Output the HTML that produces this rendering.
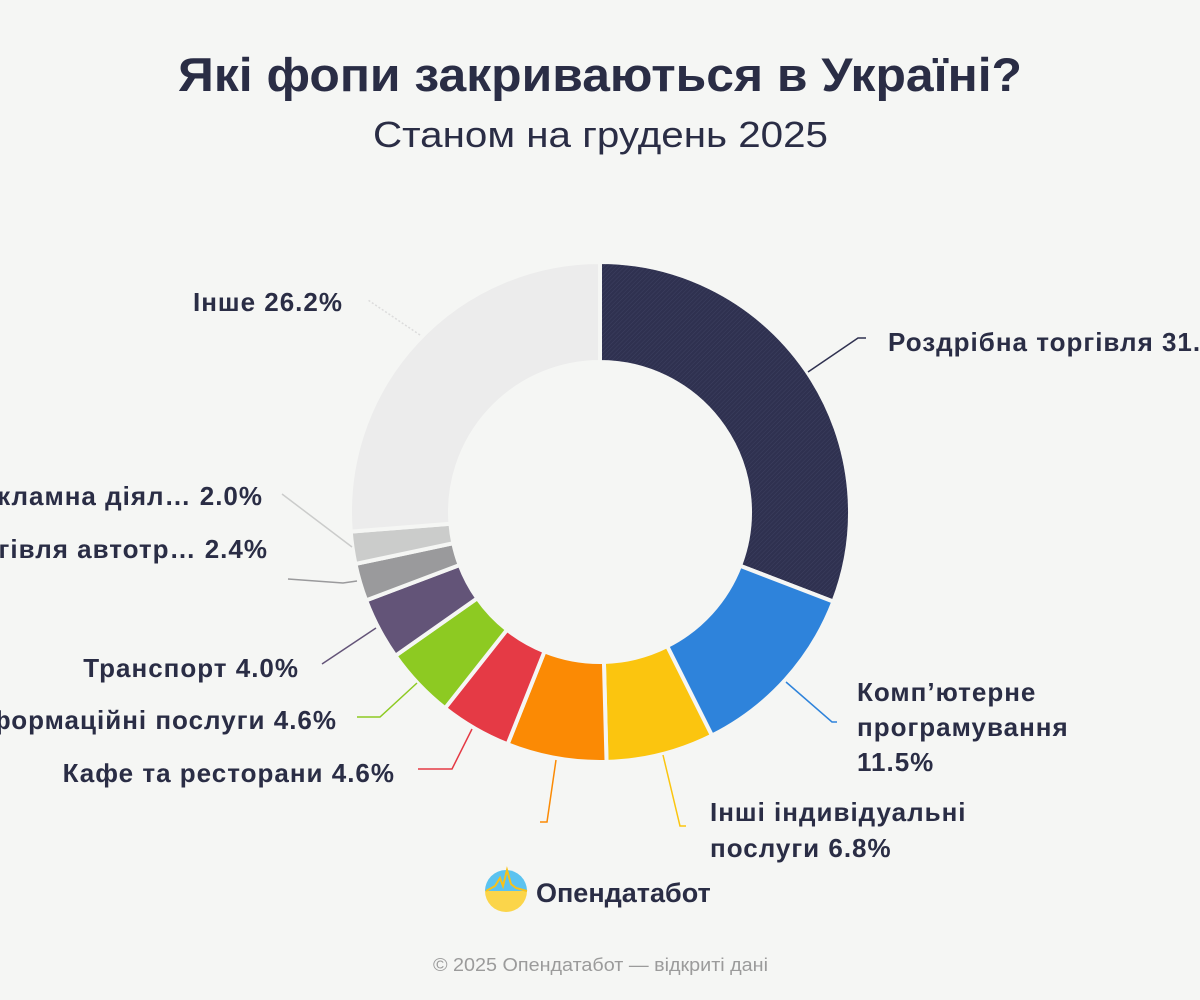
<!DOCTYPE html>
<html><head><meta charset="utf-8">
<style>
html,body{margin:0;padding:0;background:#f5f6f4;}
svg{display:block;}
text{font-family:"Liberation Sans","DejaVu Sans",sans-serif;}
</style></head>
<body>
<svg id="s" width="1200" height="1000" viewBox="0 0 1200 1000" xmlns="http://www.w3.org/2000/svg">
<defs>
<pattern id="hatch" width="3" height="3" patternUnits="userSpaceOnUse" patternTransform="rotate(45)">
<rect width="3" height="3" fill="#2f3150"/><line x1="0" y1="0" x2="0" y2="3" stroke="#3d4060" stroke-width="1"/>
</pattern>
<linearGradient id="lg" x1="0" y1="0" x2="0" y2="1">
<stop offset="0.5" stop-color="#5bc3f0"/><stop offset="0.5" stop-color="#fbd54a"/>
</linearGradient>
</defs>
<rect width="1200" height="1000" fill="#f5f6f4"/>
<text x="178" y="91" textLength="844" lengthAdjust="spacingAndGlyphs" font-size="47" font-weight="bold" fill="#2a2d45">Які фопи закриваються в Україні?</text>
<text x="373" y="147" textLength="455" lengthAdjust="spacingAndGlyphs" font-size="36" fill="#2a2d45">Станом на грудень 2025</text>
<g id="slices"></g>
<g fill="none" stroke-width="1.5">
<polyline points="808,372 858,338 866,338" stroke="#2f3150"/>
<polyline points="786,682 832,722 837,722" stroke="#2e83db"/>
<polyline points="663,755 680,826 686,826" stroke="#fbc50f"/>
<polyline points="556,760 547,822 540,822" stroke="#fb8a04"/>
<polyline points="472,729 452,769 418,769" stroke="#e53a45"/>
<polyline points="417,683 380,717 357,717" stroke="#8dca22"/>
<polyline points="376,628 322,664" stroke="#635478"/>
<polyline points="357,581 343,583 288,579" stroke="#9a9a9c"/>
<polyline points="352,547 282,494" stroke="#cbcccb"/>
<polyline points="420,335 368,300" stroke="#dcdcdc" stroke-dasharray="2,2"/>
</g>
<g font-size="26" font-weight="bold" fill="#2a2d45" letter-spacing="1">
<text x="888" y="351">Роздрібна торгівля 31.9%</text>
<text x="857" y="701">Комп’ютерне</text>
<text x="857" y="736">програмування</text>
<text x="857" y="771">11.5%</text>
<text x="710" y="821">Інші індивідуальні</text>
<text x="710" y="857">послуги 6.8%</text>
<g text-anchor="end">
<text x="395" y="782">Кафе та ресторани 4.6%</text>
<text x="337" y="729">Інформаційні послуги 4.6%</text>
<text x="299" y="677">Транспорт 4.0%</text>
<text x="268" y="558">Торгівля автотр… 2.4%</text>
<text x="263" y="505">Рекламна діял… 2.0%</text>
<text x="343" y="311">Інше 26.2%</text>
</g>
</g>
<circle cx="506" cy="891" r="21" fill="url(#lg)"/>
<path d="M486,891 L495,886 L500,878 L503,886 L507,870 L511,884 L516,888 L527,891" fill="none" stroke="#f7c21a" stroke-width="2"/>
<text x="536" y="902" font-size="27" font-weight="bold" fill="#2a2d45">Опендатабот</text>
<text x="433" y="971" textLength="335" lengthAdjust="spacingAndGlyphs" font-size="18" fill="#9b9b9b">© 2025 Опендатабот — відкриті дані</text>
</svg>
<script>
var cx=600,cy=512,R=250,r=150;
var d=[[0,111,"url(#hatch)"],[111,153.4,"#2e83db"],[153.4,178.5,"#fbc50f"],[178.5,201.7,"#fb8a04"],[201.7,218.3,"#e53a45"],[218.3,234.9,"#8dca22"],[234.9,249.3,"#635478"],[249.3,258,"#9a9a9c"],[258,265.5,"#cbcccb"],[265.5,360,"#ececec"]];
function p(a,rad){a=(a-90)*Math.PI/180;return (cx+rad*Math.cos(a)).toFixed(2)+","+(cy+rad*Math.sin(a)).toFixed(2);}
var g=document.getElementById("slices"),h="";
d.forEach(function(s){var a0=s[0],a1=s[1],l=(a1-a0)>180?1:0;
h+='<path d="M'+p(a0,R)+' A'+R+','+R+' 0 '+l+' 1 '+p(a1,R)+' L'+p(a1,r)+' A'+r+','+r+' 0 '+l+' 0 '+p(a0,r)+' Z" fill="'+s[2]+'" stroke="#f5f6f4" stroke-width="4" stroke-linejoin="round"/>';});
g.innerHTML=h;
</script>
</body></html>
